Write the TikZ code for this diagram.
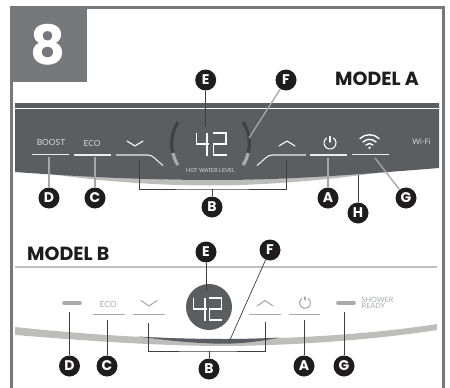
\documentclass[tikz,border=0pt]{standalone}
\usepackage{fontspec}
\setmainfont{Poppins}
\newfontfamily\lightf{Lato}
\definecolor{panel}{HTML}{5C5D60}
\definecolor{edge}{HTML}{77787B}
\definecolor{lab}{HTML}{1E1C1D}
\definecolor{swoosh}{HTML}{BDBEBC}
\definecolor{thinl}{HTML}{BFC0C0}
\definecolor{ledg}{HTML}{A9AAAB}
\definecolor{darkarc}{HTML}{404144}
\tikzset{
 x=1pt,y=-1pt,
 badge/.style={circle,fill=lab,text=white,minimum size=21pt,inner sep=0pt,font=\bfseries\fontsize{14}{14}\selectfont},
 lead/.style={draw=lab!85!white,line width=.7pt},
 leadw/.style={draw=black!35,line width=1.3pt},
 wbar/.style={draw=white!92!black,line width=1.1pt},
 gbar/.style={draw=ledg,line width=1.1pt},
 ptxt/.style={text=white!85!black,inner sep=0pt,font=\lightf\fontsize{8.4}{9}\selectfont},
 gtxt/.style={text=ledg,inner sep=0pt,font=\lightf\fontsize{8.4}{9}\selectfont},
 title/.style={text=lab,inner sep=0pt,font=\bfseries\fontsize{19}{19}\selectfont},
 seg/.style={draw=white,line width=1.25pt,line join=miter},
 icon/.style={line width=1.1pt,line cap=round,line join=round}
}
\begin{document}
\begin{tikzpicture}
\useasboundingbox (0,0) rectangle (450,388);
\fill[white] (0,0) rectangle (450,388);
% frame
\draw[edge,line width=3pt] (11.5,388) -- (11.5,7) -- (443,7) -- (443,388);
\fill[edge] (9.5,6) rectangle (87,82);
\node[text=white,inner sep=0pt,font=\bfseries\fontsize{54}{54}\selectfont] (num) at (48,44.5) {8};
% model labels
\node[title,anchor=east] (ma) at (419,78.5) {MODEL A};
\node[title,anchor=west] (mb) at (27,253.5) {MODEL B};
% panel A
\fill[swoosh] (26,170) .. controls (90,176) and (150,180) .. (210,180) .. controls (280,180) and (340,175) .. (396,170) .. controls (340,179) and (270,185.5) .. (210,185.5) .. controls (140,185.5) and (70,178) .. (26,170) -- cycle;
\fill[panel] (15,103) -- (439,103) -- (439,168) .. controls (340,176) and (280,180) .. (215,180) .. controls (140,180) and (70,176) .. (15,172) -- cycle;
\draw[white,line width=.9pt] (15,108.5) -- (439,108.5);
% panel A texts
\node[ptxt] (boost) at (51,142) {BOOST};
\node[ptxt] (eco) at (92,143) {ECO};
\node[ptxt,font=\lightf\fontsize{7.5}{8}\selectfont] (wifi) at (421.5,141.5) {Wi-Fi};
\node[ptxt,font=\lightf\fontsize{5.5}{6}\selectfont] (hwl) at (210.5,171) {HOT WATER LEVEL};
% panel A bars
\draw[wbar] (32,154.5) -- (69,154.5);
\draw[wbar] (74,155) -- (111,155);
\draw[wbar] (116,155) -- (148,155) .. controls (153,155) and (156,160) .. (163,165.5);
\draw[wbar] (257,165.5) .. controls (264,160) and (267,155) .. (272,155) -- (306,155);
\draw[wbar] (310,155) -- (347,155);
\draw[wbar] (352,154.5) -- (389,154.5);
% chevrons
\draw[white,icon] (127,141) -- (135,146) -- (143,141);
\draw[white,icon] (279,146) -- (287,141) -- (295,146);
% power
\draw[white,icon] (330,136.5) -- (330,142);
\draw[white,icon] (326.6,138.1) arc[start angle=125,end angle=415,radius=6pt];
% wifi icon
\draw[white,line width=1.4pt,line cap=round] (360,138.5) .. controls (365,133.5) and (374,133.5) .. (379,138.5);
\draw[white,line width=1.4pt,line cap=round] (363,142) .. controls (367,138.5) and (372,138.5) .. (376,142);
\draw[white,line width=1.4pt,line cap=round] (366,145) .. controls (368,143) and (371,143) .. (373,145);
\fill[white] (369.5,147.8) circle (1.3);
% arcs around display
\draw[darkarc,line width=3.2pt] (178,122) .. controls (172,131) and (170,144) .. (173,153);
\draw[ledg,line width=3.2pt] (173,153) .. controls (174,157) and (175,161) .. (178,165);
\draw[darkarc,line width=3.2pt] (243,122) .. controls (249,131) and (251,144) .. (248,153);
\draw[ledg,line width=3.2pt] (248,153) .. controls (247,157) and (246,161) .. (243,165);
% digits A
\draw[seg] (196.5,133) -- (196.5,144) -- (209,144) (207,133) -- (207,155.5);
\draw[seg] (213,133) -- (226,133) -- (226,144) -- (213.6,144) -- (213.6,155) -- (226.5,155);
% leaders A
\node[badge] (E) at (205.7,80) {E};
\coordinate (Ee) at (205.7,127);
\draw[lead] (E) -- (Ee);
\node[badge] (F) at (286,80) {F};
\coordinate (Fe) at (249,138);
\draw[leadw] (F) -- (Fe);
\node[badge] (D) at (49,198) {D};
\coordinate (De) at (49,157);
\draw[leadw] (D) -- (De);
\node[badge] (C) at (95,198) {C};
\coordinate (Ce) at (95,157);
\draw[leadw] (C) -- (Ce);
\node[badge] (B) at (212,207) {B};
\coordinate (Bj) at (212,189);
\coordinate (Bl) at (139,160);
\coordinate (Br) at (286,160);
\draw[lead] (Bl) |- (Bj) -| (Br);
\draw[lead] (B) -- (Bj);
\node[badge] (A) at (328,198) {A};
\coordinate (Ae) at (328,158);
\draw[leadw] (A) -- (Ae);
\node[badge] (G) at (406,198) {G};
\coordinate (Ge) at (375,158);
\draw[leadw] (G) -- (Ge);
\node[badge] (H) at (358,213) {H};
\coordinate (He) at (358,175);
\draw[lead] (H) -- (He);
% divider B
\draw[thinl,line width=1.1pt] (15,267) -- (437,267);
% swoosh B
\fill[swoosh] (15,327) .. controls (90,335) and (160,339) .. (225,339) .. controls (300,339) and (380,333) .. (437,324) -- (437,330) .. controls (380,339) and (300,345.5) .. (225,346) .. controls (160,346) and (90,341) .. (15,335) -- cycle;
\fill[panel] (138,336.5) .. controls (170,338.5) and (200,339) .. (225,339) .. controls (245,339) and (260,338.5) .. (280,337.5) .. controls (262,341) and (245,343.5) .. (225,343.7) .. controls (200,343.7) and (170,341) .. (138,336.5) -- cycle;
% B items
\draw[ledg,line width=3.6pt,line cap=round] (64,303) -- (80,303);
\draw[ledg,line width=3.6pt,line cap=round] (338,303) -- (354,303);
\node[gtxt] (eco2) at (108,304) {ECO};
\draw[gbar] (93,314.5) -- (125,314.5);
\draw[gbar] (133,314.5) -- (165,314.5);
\draw[gbar] (249,314.5) -- (281,314.5);
\draw[gbar] (289,314.5) -- (320,314.5);
\draw[ledg,icon] (141,300.5) -- (149,306) -- (157,300.5);
\draw[ledg,icon] (257,306) -- (265,300.5) -- (273,306);
\draw[ledg,icon] (305,297) -- (305,300);
\draw[ledg,icon] (301.8,298.5) arc[start angle=125,end angle=415,radius=5.5pt];
\node[gtxt,align=left,anchor=west,font=\lightf\fontsize{7.3}{5.8}\selectfont] (sr) at (361.5,303.2) {SHOWER\\READY};
% display B
\fill[panel] (209,307) circle (23);
\draw[seg] (193.5,298) -- (193.5,309) -- (207,309) (205,298) -- (205,320.5);
\draw[seg] (209,298) -- (221.5,298) -- (221.5,309) -- (209.6,309) -- (209.6,320) -- (222,320);
% leaders B
\node[badge] (E2) at (206,252) {E};
\coordinate (E2e) at (206,291);
\draw[lead] (E2) -- (E2e);
\node[badge] (F2) at (270,250) {F};
\coordinate (F2e) at (229,342);
\draw[lead] (F2) -- (F2e);
\node[badge] (D2) at (69.5,366) {D};
\coordinate (D2e) at (69.5,312);
\draw[lead] (D2) -- (D2e);
\node[badge] (C2) at (107,366) {C};
\coordinate (C2e) at (107,320);
\draw[lead] (C2) -- (C2e);
\node[badge] (B2) at (209,369) {B};
\coordinate (B2j) at (209,351);
\coordinate (B2l) at (148,323);
\coordinate (B2r) at (265,322);
\draw[lead] (B2l) |- (B2j) -| (B2r);
\draw[lead] (B2) -- (B2j);
\node[badge] (A2) at (304,366) {A};
\coordinate (A2e) at (304,320);
\draw[lead] (A2) -- (A2e);
\node[badge] (G2) at (344,366) {G};
\coordinate (G2e) at (344,312);
\draw[lead] (G2) -- (G2e);
\end{tikzpicture}
\end{document}
